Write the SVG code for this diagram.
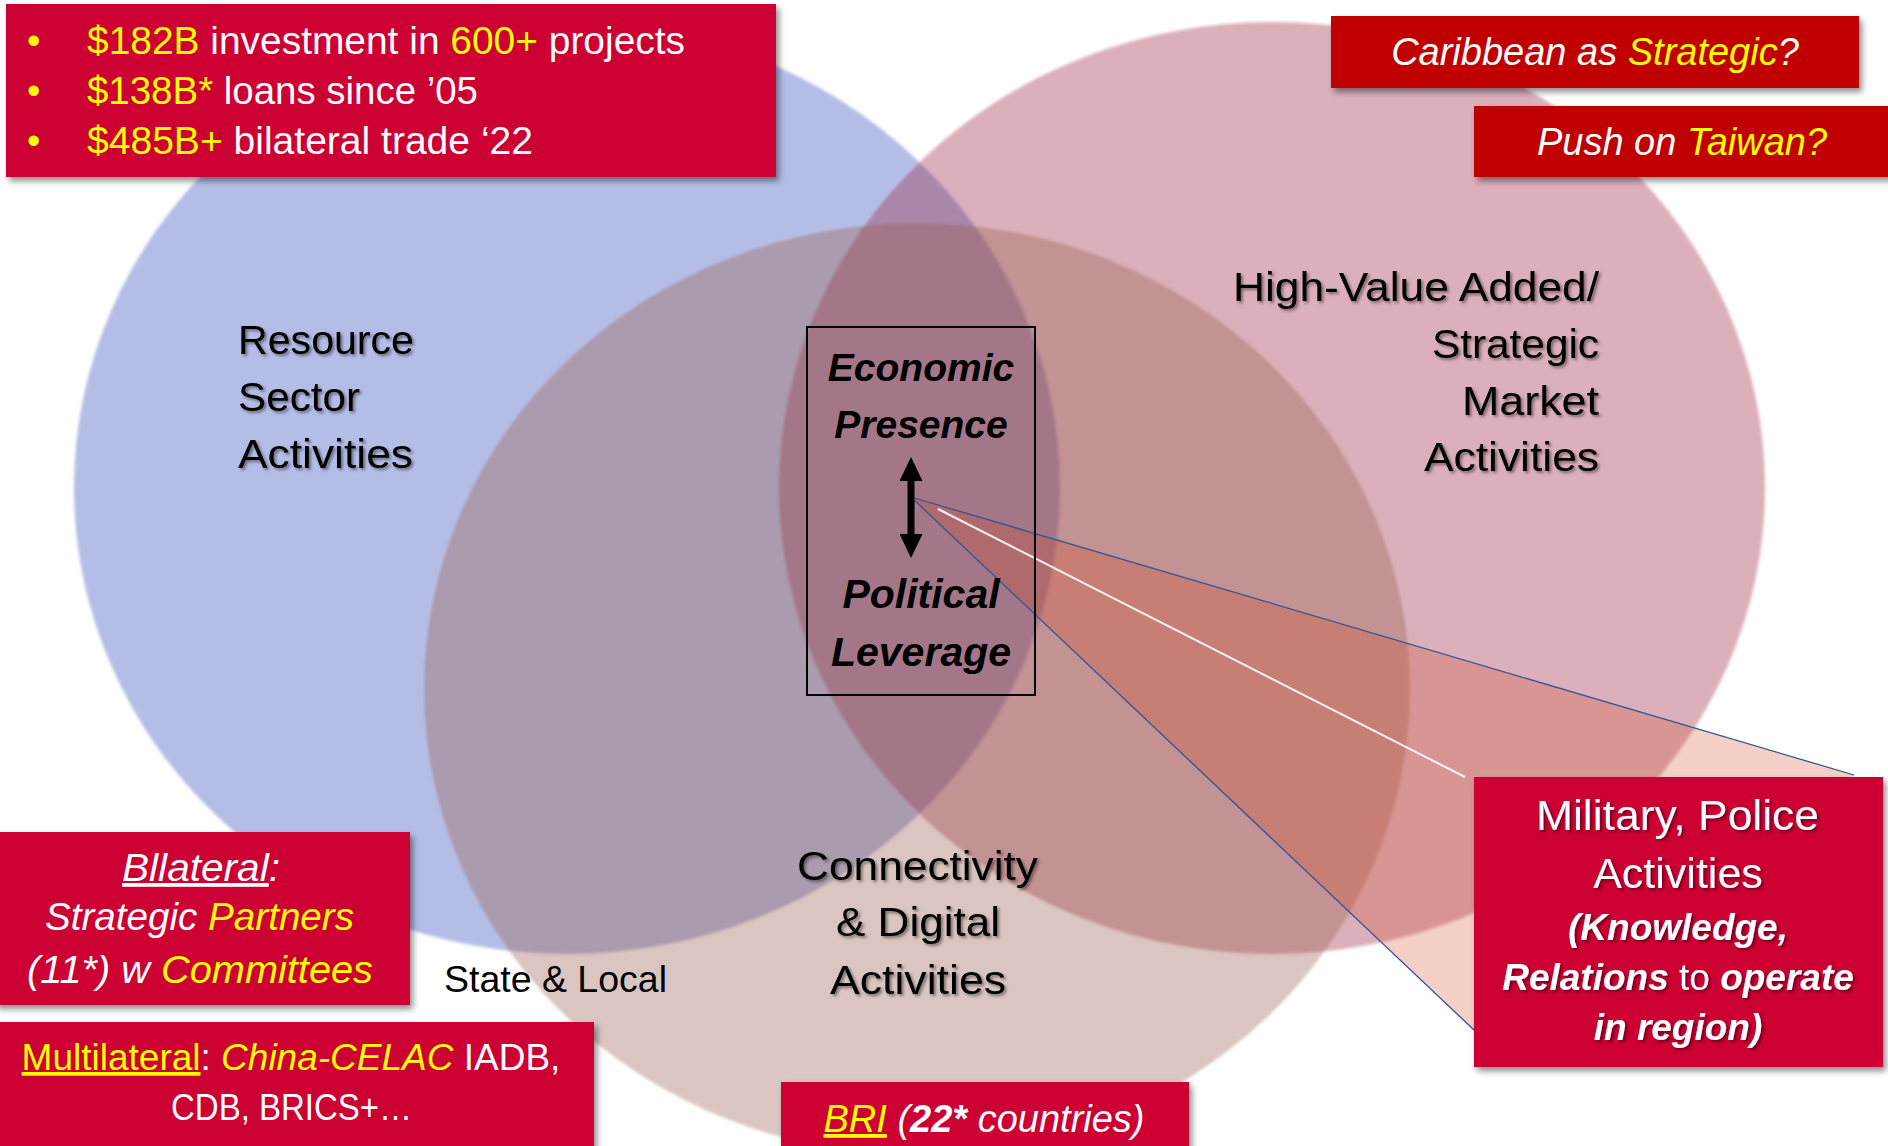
<svg xmlns="http://www.w3.org/2000/svg" width="1888" height="1146" viewBox="0 0 1888 1146">
<defs>
<style>
text{font-family:"Liberation Sans",Arial,sans-serif}
.w{fill:#fff}
.y{fill:#ff0}
.k{fill:#000}
.lbl{font-size:41px;fill:#000}
.red1{fill:#cc0033}
.red2{fill:#c00000}
.u{text-decoration:underline}
.i{font-style:italic}
.b{font-weight:bold}
</style>
<filter id="soft" x="-5%" y="-5%" width="110%" height="110%"><feGaussianBlur stdDeviation="1.6"/></filter>
<filter id="boxsh" x="-10%" y="-20%" width="125%" height="150%"><feDropShadow dx="3" dy="4" stdDeviation="3" flood-color="#000" flood-opacity="0.45"/></filter>
<filter id="txsh" x="-10%" y="-20%" width="130%" height="150%"><feDropShadow dx="2" dy="2" stdDeviation="1.8" flood-color="#000" flood-opacity="0.45"/></filter>
<marker id="ah" viewBox="0 0 24 23" markerWidth="24" markerHeight="23" refX="0" refY="11.5" orient="auto-start-reverse" markerUnits="userSpaceOnUse"><path d="M0,0 L24,11.5 L0,23 Z" fill="#000"/></marker>
</defs>
<rect width="1888" height="1146" fill="#fff"/>

<g id="circles" filter="url(#soft)">
<ellipse id="blue" cx="567" cy="488" rx="493" ry="466" fill="#2945b8" fill-opacity="0.35"/>
<ellipse id="pink" cx="1272" cy="488" rx="493" ry="466" fill="#98233d" fill-opacity="0.35"/>
<ellipse id="tan" cx="917" cy="689" rx="493" ry="466" fill="#985847" fill-opacity="0.35"/>
</g>

<g id="connectors">
<polygon points="911,497 1854,775 1474,1030" fill="#d3421f" fill-opacity="0.25"/>
<line x1="911" y1="497" x2="1854" y2="775" stroke="#2f5597" stroke-width="1.3"/>
<line x1="911" y1="497" x2="1474" y2="1030" stroke="#2f5597" stroke-width="1.3"/>
<line x1="938" y1="509" x2="1465" y2="777" stroke="#fff" stroke-opacity="0.9" stroke-width="2"/>
</g>

<g id="resource" filter="url(#txsh)">
<text class="lbl" x="238" y="354" textLength="176" lengthAdjust="spacingAndGlyphs">Resource</text>
<text class="lbl" x="238" y="411" textLength="122" lengthAdjust="spacingAndGlyphs">Sector</text>
<text class="lbl" x="238" y="468" textLength="175" lengthAdjust="spacingAndGlyphs">Activities</text>
</g>

<g id="highvalue" filter="url(#txsh)">
<text class="lbl" x="1233" y="301" textLength="366" lengthAdjust="spacingAndGlyphs">High-Value Added/</text>
<text class="lbl" x="1432" y="358" textLength="167" lengthAdjust="spacingAndGlyphs">Strategic</text>
<text class="lbl" x="1462" y="415" textLength="137" lengthAdjust="spacingAndGlyphs">Market</text>
<text class="lbl" x="1424" y="471" textLength="175" lengthAdjust="spacingAndGlyphs">Activities</text>
</g>

<g id="connectivity" filter="url(#txsh)">
<text class="lbl" x="797" y="880" textLength="241" lengthAdjust="spacingAndGlyphs">Connectivity</text>
<text class="lbl" x="836" y="936" textLength="164" lengthAdjust="spacingAndGlyphs">&amp; Digital</text>
<text class="lbl" x="830" y="994" textLength="176" lengthAdjust="spacingAndGlyphs">Activities</text>
</g>

<g id="statelocal">
<text x="444" y="992" font-size="37" fill="#000" textLength="223" lengthAdjust="spacingAndGlyphs">State &amp; Local</text>
</g>

<g id="center">
<rect x="807" y="327" width="228" height="368" fill="none" stroke="#000" stroke-width="2"/>
<g font-size="39" font-weight="bold" font-style="italic" fill="#000" text-anchor="middle">
<text x="921" y="381">Economic</text>
<text x="921" y="438">Presence</text>
<text x="921" y="608" font-size="41">Political</text>
<text x="921" y="666" font-size="41">Leverage</text>
</g>
<line x1="911" y1="481" x2="911" y2="534" stroke="#000" stroke-width="7" marker-start="url(#ah)" marker-end="url(#ah)"/>
</g>

<g id="stats">
<rect class="red1" x="6" y="4" width="770" height="173" filter="url(#boxsh)"/>
<g font-size="38">
<text x="27" y="54" class="y">•</text>
<text x="27" y="104" class="y">•</text>
<text x="27" y="154" class="y">•</text>
<text x="87" y="54" class="w" textLength="598" lengthAdjust="spacingAndGlyphs"><tspan class="y">$182B</tspan> investment in <tspan class="y">600+</tspan> projects</text>
<text x="87" y="104" class="w" textLength="391" lengthAdjust="spacingAndGlyphs"><tspan class="y">$138B*</tspan> loans since ’05</text>
<text x="87" y="154" class="w" textLength="446" lengthAdjust="spacingAndGlyphs"><tspan class="y">$485B+</tspan> bilateral trade ‘22</text>
</g>
</g>

<g id="caribbean">
<rect class="red2" x="1331" y="16" width="528" height="72" filter="url(#boxsh)"/>
<text x="1595" y="65" font-size="38" font-style="italic" text-anchor="middle" class="w">Caribbean as <tspan class="y">Strategic</tspan>?</text>
</g>

<g id="taiwan">
<rect class="red2" x="1474" y="106" width="420" height="71" filter="url(#boxsh)"/>
<text x="1682" y="155" font-size="38" font-style="italic" text-anchor="middle" class="w">Push on <tspan class="y">Taiwan?</tspan></text>
</g>

<g id="bilateral">
<rect class="red1" x="-6" y="832" width="416" height="173" filter="url(#boxsh)"/>
<g font-size="38" font-style="italic">
<text x="122" y="881" class="w" textLength="158" lengthAdjust="spacingAndGlyphs"><tspan class="u">Bllateral</tspan>:</text>
<text x="45" y="930" class="w" textLength="309" lengthAdjust="spacingAndGlyphs">Strategic <tspan class="y">Partners</tspan></text>
<text x="27" y="983" class="w" textLength="346" lengthAdjust="spacingAndGlyphs">(11*) w <tspan class="y">Committees</tspan></text>
</g>
</g>

<g id="multilateral">
<rect class="red1" x="-6" y="1022" width="600" height="130" filter="url(#boxsh)"/>
<g font-size="37">
<text x="291" y="1070" class="w" text-anchor="middle"><tspan class="y u">Multilateral</tspan>: <tspan class="y i">China-CELAC</tspan> IADB,</text>
<text x="171" y="1120" class="w" textLength="241" lengthAdjust="spacingAndGlyphs">CDB, BRICS+…</text>
</g>
</g>

<g id="bri">
<rect class="red1" x="781" y="1082" width="408" height="70" filter="url(#boxsh)"/>
<text x="984" y="1132" font-size="38" font-style="italic" text-anchor="middle" class="w"><tspan class="y u">BRI</tspan> (<tspan class="b">22*</tspan> countries)</text>
</g>

<g id="military">
<rect class="red1" x="1474" y="777" width="409" height="290" filter="url(#boxsh)"/>
<g class="w" filter="url(#txsh)">
<text x="1536" y="830" font-size="43" textLength="283" lengthAdjust="spacingAndGlyphs">Military, Police</text>
<text x="1678" y="888" font-size="43" text-anchor="middle">Activities</text>
<text x="1678" y="940" font-size="37" font-weight="bold" font-style="italic" text-anchor="middle">(Knowledge,</text>
<text x="1678" y="990" font-size="37" text-anchor="middle"><tspan font-weight="bold" font-style="italic">Relations</tspan> to <tspan font-weight="bold" font-style="italic">operate</tspan></text>
<text x="1678" y="1040" font-size="37" font-weight="bold" font-style="italic" text-anchor="middle">in region)</text>
</g>
</g>
</svg>
